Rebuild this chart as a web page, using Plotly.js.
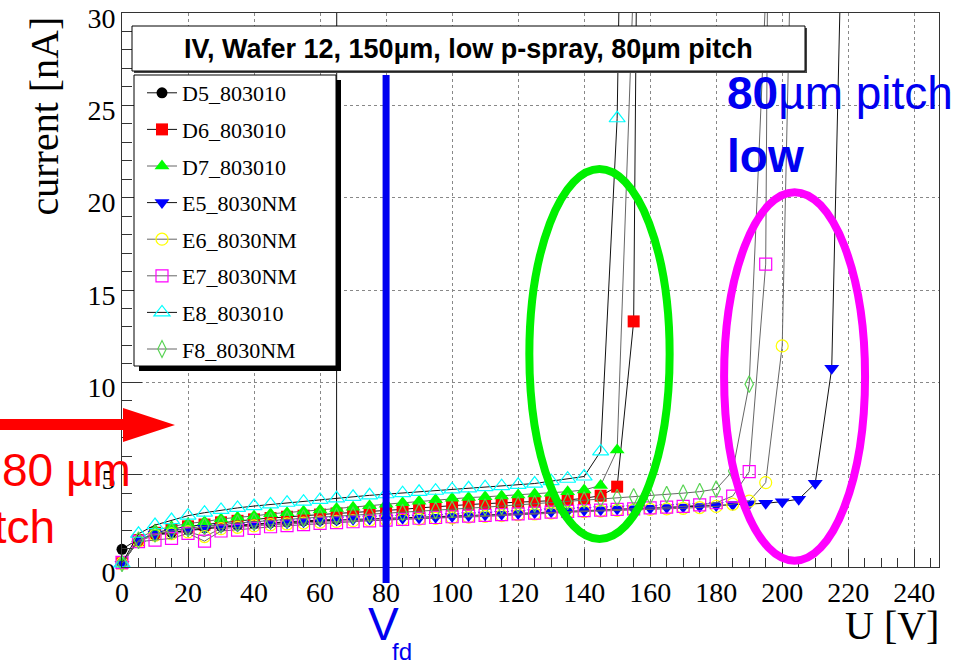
<!DOCTYPE html>
<html><head><meta charset="utf-8">
<script src="https://cdn.plot.ly/plotly-3.0.1.min.js"></script>
<style>html,body{margin:0;padding:0;background:#fff;}#chart{width:966px;height:664px;}</style>
</head><body><div id="chart"></div>
<script>
// ---- data (bias voltage in V, leakage current in nA) ----
const voltage = [0,5,10,15,20,25,30,35,40,45,50,55,60,65,70,75,80,85,90,95,100,105,110,115,120,125,130,135,140,145,150,155,160,165,170,175,180,185,190,195,200,205,210,215,220];
const D5_803010 = [0.96,1.52,1.75,1.88,2.02,2.12,2.2,2.27,2.34,2.4,2.45,2.5,2.54,2.58,3000];
const D6_803010 = [0.2,1.45,1.85,2.05,2.2,2.3,2.42,2.5,2.58,2.65,2.72,2.78,2.84,2.9,2.95,3.0,3.05,3.12,3.2,3.27,3.33,3.38,3.43,3.47,3.5,3.54,3.56,3.63,3.72,3.86,4.35,13.3,120];
const D7_803010 = [0.2,1.55,2.0,2.18,2.36,2.45,2.6,2.69,2.76,2.88,2.94,3.02,3.09,3.17,3.23,3.32,3.4,3.48,3.56,3.64,3.72,3.76,3.8,3.85,3.9,3.95,4.0,4.08,4.17,4.42,6.33,32,300];
const E5_8030NM = [0.15,1.46,1.79,1.88,1.98,2.1,2.15,2.22,2.3,2.36,2.4,2.45,2.5,2.54,2.58,2.6,2.63,2.64,2.66,2.7,2.73,2.77,2.81,2.85,2.9,2.94,2.99,3.03,3.07,3.1,3.14,3.16,3.18,3.22,3.25,3.28,3.33,3.38,3.42,3.45,3.54,3.67,4.53,10.76,50];
const E6_8030NM = [0.2,1.4,1.72,1.8,1.9,1.65,2.08,2.15,2.23,2.29,2.33,2.38,2.43,2.47,2.51,2.53,2.56,2.57,2.59,2.63,2.66,2.7,2.74,2.78,2.83,2.87,2.92,2.96,3.0,3.03,3.07,3.09,3.12,3.15,3.18,3.22,3.28,3.4,3.57,4.57,11.97,53];
const E7_8030NM = [0.25,1.37,1.46,1.55,1.82,1.4,1.95,2.0,2.09,2.18,2.24,2.3,2.36,2.4,2.45,2.5,2.54,2.58,2.64,2.68,2.72,2.76,2.8,2.84,2.88,2.92,2.97,3.01,3.05,3.08,3.12,3.15,3.2,3.24,3.28,3.36,3.48,3.84,5.16,16.4,150];
const E8_803010 = [0.2,1.8,2.27,2.54,2.78,2.94,3.09,3.2,3.3,3.39,3.48,3.54,3.63,3.72,3.8,3.88,3.94,4.0,4.07,4.13,4.2,4.26,4.32,4.38,4.45,4.52,4.65,4.78,4.9,6.26,24.3,80];
const F8_8030NM = [0.2,1.45,1.8,1.95,2.1,2.2,2.3,2.38,2.45,2.52,2.58,2.64,2.7,2.75,2.8,2.85,2.9,2.95,3.0,3.06,3.12,3.18,3.24,3.3,3.36,3.42,3.48,3.55,3.62,3.7,3.75,3.8,3.85,3.92,4.0,4.08,4.22,5.2,9.9,31,300];

const seriesNames = ['D5_803010','D6_803010','D7_803010','E5_8030NM','E6_8030NM','E7_8030NM','E8_803010','F8_8030NM'];
const seriesValues = [D5_803010,D6_803010,D7_803010,E5_8030NM,E6_8030NM,E7_8030NM,E8_803010,F8_8030NM];
const xTickVals = [0,20,40,60,80,100,120,140,160,180,200,220,240];
const yTickVals = [0,5,10,15,20,25,30];
const V_fd = 80;

// ---- styles ----
const styles = [
  {symbol:'circle', color:'#000000', size:11, line:'#111'},
  {symbol:'square', color:'#ff0000', size:12, line:'#111'},
  {symbol:'triangle-up', color:'#00ff00', size:13, line:'#666'},
  {symbol:'triangle-down', color:'#0000ff', size:13, line:'#111'},
  {symbol:'circle-open', color:'#ffff00', size:12, line:'#666'},
  {symbol:'square-open', color:'#ff00ff', size:12, line:'#666'},
  {symbol:'triangle-up-open', color:'#00ffff', size:14, line:'#111'},
  {symbol:'diamond-tall-open', color:'#59d454', size:12, line:'#666'}
];

const traces = seriesNames.map((nm,i)=>({
  type:'scatter', mode:'lines+markers', name:nm, legendgroup:nm,
  x: voltage.slice(0, seriesValues[i].length), y: seriesValues[i],
  line:{color:styles[i].line, width:1},
  marker:{symbol:styles[i].symbol, color:styles[i].color, size:styles[i].size,
          line:{color:styles[i].color, width: styles[i].symbol.indexOf('open')>=0 ? 1.2 : 0}},
  cliponaxis:false
}));

// pixel -> paper helpers (plot area: left 122, right 939, top 13, bottom 567)
const PL=122, PR=939, PT=13, PB=567;
const px = x => (x-PL)/(PR-PL);
const py = y => (PB-y)/(PB-PT);

const serif = 'Liberation Serif, Times New Roman, serif';
const sans = 'Liberation Sans, Arial, Helvetica, sans-serif';

const shapes = [
  {type:'line', xref:'x', yref:'paper', x0:V_fd, x1:V_fd, y0:py(583), y1:py(75), line:{color:'#0000f0', width:7}},
  {type:'circle', xref:'x', yref:'y', x0:123.4, x1:165.9, y0:1.52, y1:21.55, line:{color:'#00f000', width:8}},
  {type:'circle', xref:'x', yref:'y', x0:182.4, x1:225.1, y0:0.34, y1:20.3, line:{color:'#ff00ff', width:8}},
  {type:'path', xref:'paper', yref:'paper', fillcolor:'#ff0000', line:{width:0},
   path:`M${px(-5)},${py(419)} L${px(123)},${py(419)} L${px(123)},${py(408)} L${px(175)},${py(425)} L${px(123)},${py(442)} L${px(123)},${py(430)} L${px(-5)},${py(430)} Z`},
  {type:'rect', xref:'paper', yref:'paper', x0:px(139), x1:px(341), y0:py(371), y1:py(80), fillcolor:'#000', line:{width:0}},
  {type:'rect', xref:'paper', yref:'paper', x0:px(134), x1:px(336), y0:py(366), y1:py(75), fillcolor:'#fff', line:{color:'#000', width:1}},
  {type:'rect', xref:'paper', yref:'paper', x0:px(134), x1:px(807), y0:py(73), y1:py(28), fillcolor:'#444', line:{width:0}},
  {type:'rect', xref:'paper', yref:'paper', x0:px(132), x1:px(805), y0:py(71), y1:py(26), fillcolor:'#fff', line:{color:'#000', width:1}}
];

const annotations = [
  {xref:'paper', yref:'paper', x:px(468.5), y:py(48.5), xanchor:'center', yanchor:'middle', showarrow:false,
   text:'<b>IV, Wafer 12, 150µm, low p-spray, 80µm pitch</b>', font:{family:sans, size:27, color:'#000'}},
  {xref:'paper', yref:'paper', x:px(44), y:py(116.5), xanchor:'center', yanchor:'middle', showarrow:false, textangle:-90,
   text:'current [nA]', font:{family:serif, size:40, color:'#000'}},
  {xref:'paper', yref:'paper', x:px(891.5), y:py(625), xanchor:'center', yanchor:'middle', showarrow:false,
   text:'U [V]', font:{family:serif, size:40, color:'#000'}},
  {xref:'paper', yref:'paper', x:px(383), y:py(623.5), xanchor:'center', yanchor:'middle', showarrow:false,
   text:'V', font:{family:sans, size:46, color:'#0000f0'}},
  {xref:'paper', yref:'paper', x:px(401.5), y:py(651), xanchor:'center', yanchor:'middle', showarrow:false,
   text:'fd', font:{family:sans, size:24, color:'#0000f0'}},
  {xref:'paper', yref:'paper', x:px(133), y:py(470), xanchor:'right', yanchor:'middle', showarrow:false,
   text:'80 µm', font:{family:sans, size:46, color:'#ff0000'}},
  {xref:'paper', yref:'paper', x:px(57), y:py(527), xanchor:'right', yanchor:'middle', showarrow:false,
   text:'pitch', font:{family:sans, size:46, color:'#ff0000'}},
  {xref:'paper', yref:'paper', x:px(725), y:py(93.5), xanchor:'left', yanchor:'middle', showarrow:false,
   text:'<b>80</b>µm pitch', font:{family:sans, size:46, color:'#0000f0'}},
  {xref:'paper', yref:'paper', x:px(725), y:py(156), xanchor:'left', yanchor:'middle', showarrow:false,
   text:'<b>low</b>', font:{family:sans, size:46, color:'#0000f0'}}
];

const layout = {
  width:966, height:664,
  margin:{l:PL, r:966-PR, t:PT, b:664-PB, pad:0},
  paper_bgcolor:'#fff', plot_bgcolor:'#fff',
  showlegend:true,
  legend:{x:px(142), y:py(72), xanchor:'left', yanchor:'top', bgcolor:'rgba(0,0,0,0)', borderwidth:0,
          font:{family:serif, size:22, color:'#000'}, traceorder:'grouped', tracegroupgap:5},
  xaxis:{range:[0,247.5], tickvals:xTickVals, ticks:'inside', ticklen:18, tickcolor:'#333', tickwidth:1,
         showline:true, mirror:true, linecolor:'#333', linewidth:1, zeroline:false,
         showgrid:true, gridcolor:'#888', griddash:'dot', gridwidth:1, ticklabeloverflow:'allow',
         minor:{dtick:5, ticks:'inside', ticklen:9, tickcolor:'#333', showgrid:false},
         tickfont:{family:serif, size:28, color:'#000'}},
  yaxis:{range:[0,30], tickvals:yTickVals, ticks:'inside', ticklen:20, tickcolor:'#333', tickwidth:1,
         showline:true, mirror:true, linecolor:'#333', linewidth:1, zeroline:false,
         showgrid:true, gridcolor:'#888', griddash:'dot', gridwidth:1, ticklabeloverflow:'allow',
         ticklabelshift:5,
         minor:{dtick:1, ticks:'inside', ticklen:10, tickcolor:'#333', showgrid:false},
         tickfont:{family:serif, size:28, color:'#000'}},
  shapes:shapes, annotations:annotations
};

Plotly.newPlot('chart', traces, layout, {staticPlot:true, displayModeBar:false});
</script></body></html>
